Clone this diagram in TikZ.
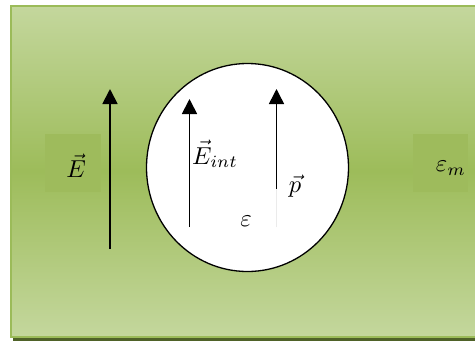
\documentclass[tikz,border=0pt]{standalone}
\usetikzlibrary{arrows.meta,shapes.geometric}
\definecolor{gtop}{RGB}{196,215,157}
\definecolor{gmid}{RGB}{157,188,90}
\definecolor{gedge}{RGB}{155,187,89}
\definecolor{gshadow}{RGB}{79,98,40}
\definecolor{gbox}{RGB}{158,187,92}
\newcommand{\mylbl}[1]{\scalebox{2.45}{$#1$}}
\tikzset{
  field/.style={line width=1.8pt,-{Triangle[width=15pt,length=15pt]}},
  lbl/.style={inner sep=0pt},
}
\begin{document}
\begin{tikzpicture}[x=1pt,y=-1pt]
\useasboundingbox (0,0) rectangle (475,341);
% shadow
\fill[gshadow] (13,9) rectangle (478,341);
% medium
\shade[top color=gtop,bottom color=gtop,middle color=gmid] (10,5) rectangle (476,337);
\draw[gedge,line width=2pt] (11,6) rectangle (478,337);
% label boxes
\fill[gbox] (45,134) rectangle (101,192);
\fill[gbox] (413,134) rectangle (468,192);
% particle
\node[draw=black,fill=white,line width=1.3pt,ellipse,minimum width=202pt,minimum height=208pt,inner sep=0pt] (part) at (247.5,167.5) {};
% arrows
\coordinate (E0) at (110,249);
\coordinate (E1) at (110,89);
\draw[field] (E0) -- (E1);
\coordinate (I0) at (189.5,227);
\coordinate (I1) at (189.5,99);
\draw[field] (I0) -- (I1);
\coordinate (P0) at (276.5,189);
\coordinate (P1) at (276.5,89);
\draw[field,line width=1.5pt] (P0) -- (P1);
\coordinate (P2) at (276.5,227);
\draw[black!8,line width=0.6pt] (P2) -- (P0);
% labels
\node[lbl] (Elbl) at (76,166) {\mylbl{\vec{E}}};
\node[lbl,anchor=west] (Eint) at (192,154) {\mylbl{\vec{E}_{int}}};
\node[lbl] (plbl) at (295,186) {\mylbl{\vec{p}}};
\node[lbl] (eps) at (246,221) {\mylbl{\varepsilon}};
\node[lbl] (epsm) at (451,168) {\mylbl{\varepsilon_m}};
\end{tikzpicture}
\end{document}
